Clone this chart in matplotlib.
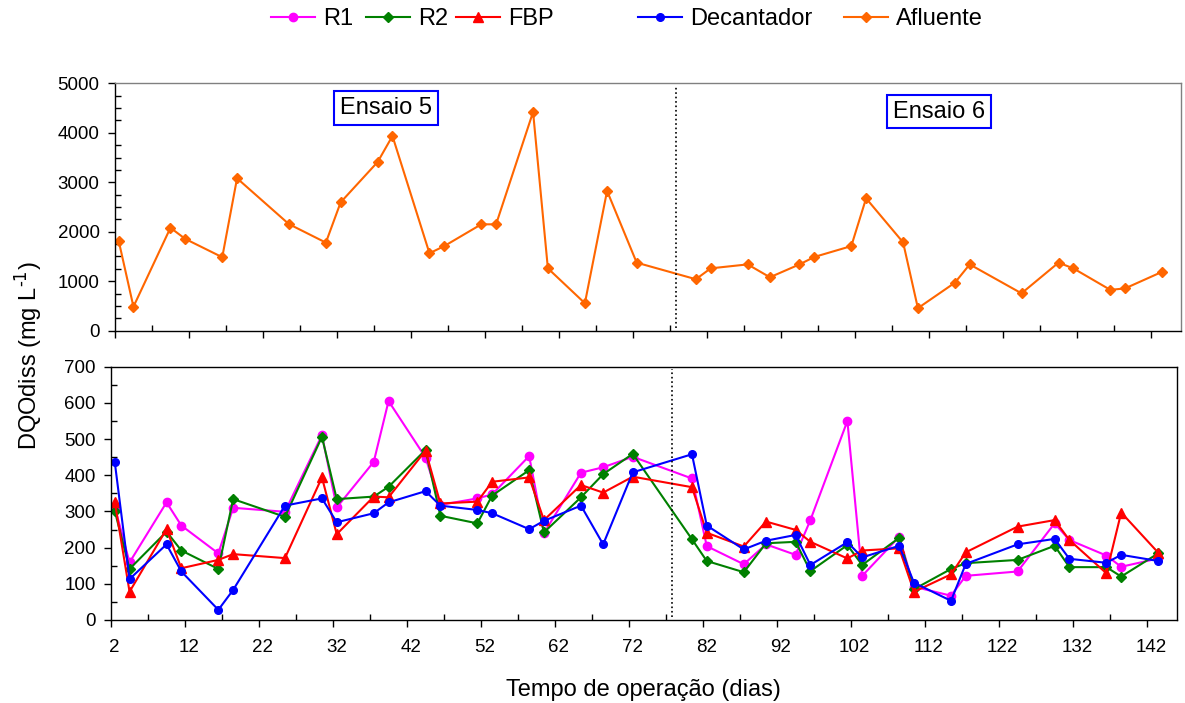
import matplotlib
matplotlib.use('Agg')
import matplotlib.pyplot as plt
import matplotlib.transforms as mtransforms
import numpy as np

plt.rcParams['font.family'] = ['Liberation Sans', 'DejaVu Sans']
plt.rcParams['axes.unicode_minus'] = False
plt.rcParams['mathtext.default'] = 'regular'

# dias de operação (ensaios 5 e 6)
dias = [2, 4, 9, 11, 16, 18, 25, 30, 32, 37, 39, 44, 46, 51, 53, 58, 60, 65, 68,
        72, 80, 82, 87, 90, 94, 96, 101, 103, 108, 110, 115, 117, 124, 129, 131,
        136, 138, 143]

# DQO dissolvida (mg/L)
afluente = [1820, 485, 2080, 1855, 1485, 3080, 2155, 1780, 2595, 3410, 3935, 1565,
            1710, 2150, 2150, 4420, 1260, 555, 2825, 1375, 1040, 1260, 1340, 1080,
            1340, 1490, 1710, 2675, 1785, 455, 970, 1340, 755, 1375, 1260, 825, 855,
            1190]
r1 = [313, 159, 325, 261, 184, 310, 299, 511, 311, 437, 605, 449, 318, 336, 347,
      453, 240, 407, 422, 451, 391, 204, 154, 209, 180, 276, 550, 122, 230, 92, 67,
      122, 134, 267, 221, 178, 147, 170]
r2 = [302, 141, 244, 192, 141, 334, 285, 506, 334, 341, 368, 470, 288, 267, 344,
      414, 242, 339, 403, 459, 223, 163, 132, 212, 216, 135, 207, 152, 227, 85, 141,
      157, 166, 205, 146, 146, 120, 184]
fbp = [327, 78, 251, 143, 166, 182, 171, 394, 237, 341, 339, 468, 322, 327, 382,
       394, 276, 373, 352, 396, 367, 241, 203, 272, 249, 216, 170, 192, 198, 78, 126,
       187, 258, 276, 221, 129, 297, 186]
decantador = [437, 113, 209, 134, 28, 83, 316, 336, 270, 295, 325, 356, 316, 304,
              295, 251, 274, 316, 209, 408, 458, 261, 195, 219, 235, 152, 215, 173,
              205, 103, 53, 155, 209, 224, 169, 158, 180, 163]

troca_ensaio = 77.25
rotulos_x = list(range(2, 143, 10))

fig = plt.figure(figsize=(11.85, 7.03), dpi=100)
ax1 = fig.add_axes([0.0970, 0.5296, 0.8993, 0.3519])
ax2 = fig.add_axes([0.0937, 0.1181, 0.8993, 0.3603])

lw = 1.5
h_aflu, = ax1.plot(dias, afluente, color='#FF6600', marker='D', ms=5.5, lw=lw)
h_r1, = ax2.plot(dias, r1, color='#FF00FF', marker='o', ms=6, lw=lw)
h_r2, = ax2.plot(dias, r2, color='#008000', marker='D', ms=5, lw=lw)
h_fbp, = ax2.plot(dias, fbp, color='#FF0000', marker='^', ms=7, lw=lw)
h_dec, = ax2.plot(dias, decantador, color='#0000FF', marker='o', ms=5.5, lw=lw)

for ax in (ax1, ax2):
    ax.set_xlim(1.5, 145.5)
    ax.axvline(troca_ensaio, ymin=0.01, ymax=0.99, color='black', ls=':', lw=1.2)
    ax.set_xticks(np.arange(1.5, 145, 10))
    ax.set_xticks(np.arange(6.5, 145, 10), minor=True)
    ax.tick_params(axis='both', which='major', direction='out', length=5,
                   width=1, labelsize=13.5)
    ax.tick_params(axis='both', which='minor', direction='in', length=4, width=1)
    ax.tick_params(axis='y', pad=6)
    ax.tick_params(axis='x', pad=9)
    for s in ax.spines.values():
        s.set_linewidth(1)

ax1.set_ylim(0, 5000)
ax1.set_yticks(range(0, 5001, 1000))
ax1.set_yticks(range(0, 5001, 250), minor=True)
ax1.set_xticklabels([])
ax1.spines['top'].set_color('#808080')
ax1.spines['right'].set_color('#808080')

ax2.set_ylim(0, 700)
ax2.set_yticks(range(0, 701, 100))
ax2.set_yticks(range(0, 701, 50), minor=True)
ax2.set_xticklabels([str(d) for d in rotulos_x])
# rótulos ficam no centro da categoria, meio dia à direita do traço
desloc = mtransforms.ScaledTranslation(0.037, 0, fig.dpi_scale_trans)
for lab in ax2.get_xticklabels():
    lab.set_transform(lab.get_transform() + desloc)
ax2.set_xlabel('Tempo de operação (dias)', fontsize=17, labelpad=16)

caixa = dict(boxstyle='square,pad=0.25', fc='white', ec='#0000FF', lw=1.5)
ax1.text(38.1, 4500, 'Ensaio 5', fontsize=17, ha='center', va='center', bbox=caixa)
ax1.text(112.9, 4430, 'Ensaio 6', fontsize=17, ha='center', va='center', bbox=caixa)

fig.text(28 / 1185, 1 - 356 / 703, r'DQOdiss (mg L$^{\text{-1}}$)', fontsize=17,
         rotation=90, ha='center', va='center')

# legenda: uma entrada por vez, posições ao longo do topo
entradas = [(h_r1, 'R1', 271), (h_r2, 'R2', 366), (h_fbp, 'FBP', 456),
            (h_dec, 'Decantador', 638), (h_aflu, 'Afluente', 844)]
for h, nome, xpix in entradas:
    fig.legend([h], [nome], loc='center left', bbox_to_anchor=(xpix / 1185, 1 - 19 / 703),
               frameon=False, fontsize=17, borderpad=0, borderaxespad=0,
               handlelength=1.86, handletextpad=0.34)

fig.savefig('out.png', dpi=100)
